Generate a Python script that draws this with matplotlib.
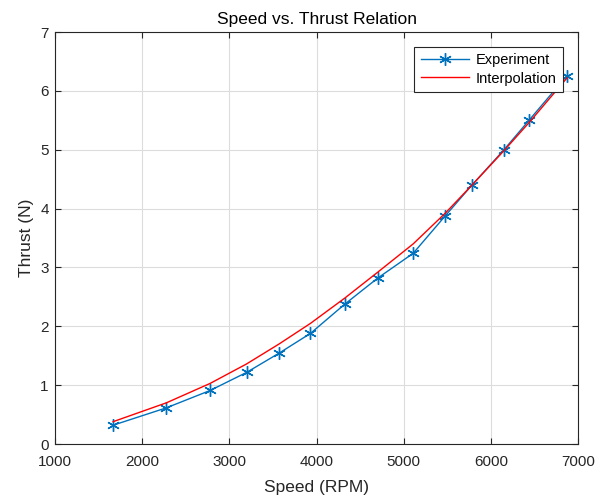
import matplotlib.pyplot as plt
import numpy as np

plt.rcParams['font.family'] = ['Liberation Sans', 'DejaVu Sans']

# measured data
speed = [1667, 2278, 2780, 3197, 3571, 3931, 4325, 4703, 5109, 5476, 5784, 6148, 6438, 6874]
thrust = [0.32, 0.615, 0.91, 1.216, 1.544, 1.88, 2.377, 2.82, 3.24, 3.875, 4.40, 4.995, 5.50, 6.26]
# interpolated curve, read at the same speeds
thrust_interp = [0.38, 0.70, 1.03, 1.36, 1.70, 2.05, 2.48, 2.92, 3.40, 3.92, 4.40, 4.98, 5.46, 6.22]

blue = '#0072BD'
gray = '#262626'

fig = plt.figure(figsize=(6.06, 4.97), dpi=100)
ax = fig.add_axes([0.0908, 0.1066, 0.863, 0.829])

ax.plot(speed, thrust, color=blue, lw=1.0, marker=(6, 2, 0), ms=9, mew=1.0,
        label='Experiment')
ax.plot(speed, thrust_interp, color='#FF0000', lw=1.0, label='Interpolation')

ax.set_xlim(1000, 7000)
ax.set_ylim(0, 7)
ax.set_xticks(np.arange(1000, 7001, 1000))
ax.set_yticks(np.arange(0, 8, 1))
ax.grid(True, color='#dcdcdc', lw=0.8)
ax.set_axisbelow(True)
ax.tick_params(direction='in', top=True, right=True, labelsize=11, colors=gray,
               length=4.5)
ax.tick_params(axis='x', pad=8)
ax.tick_params(axis='y', pad=4.5)
for s in ax.spines.values():
    s.set_color(gray)
    s.set_linewidth(0.8)

ax.set_xlabel('Speed (RPM)', fontsize=12.5, color=gray, labelpad=8)
ax.set_ylabel('Thrust (N)', fontsize=12.5, color=gray, labelpad=4.5)
ax.set_title('Speed vs. Thrust Relation', fontsize=12.5, color='black', pad=6)

leg = ax.legend(loc='upper right', fontsize=10.5, fancybox=False, framealpha=1,
                edgecolor=gray, borderaxespad=1.0, handlelength=3.3,
                handletextpad=0.5, borderpad=0.45, labelspacing=0.3)
leg.get_frame().set_linewidth(0.8)

fig.savefig('out.png', dpi=100)
